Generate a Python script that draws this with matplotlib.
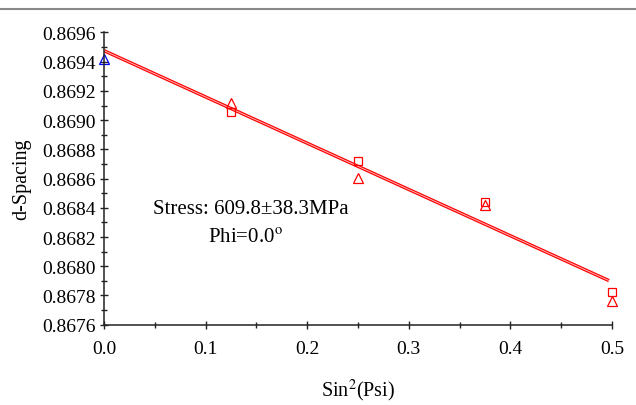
import numpy as np
import matplotlib
matplotlib.use('Agg')
import matplotlib.pyplot as plt
from matplotlib.lines import Line2D
from matplotlib.ticker import MultipleLocator, FormatStrFormatter

plt.rcParams['font.family'] = ['Liberation Serif', 'DejaVu Serif']
plt.rcParams['mathtext.fontset'] = 'stix'

# data
psi_sq = [0.125, 0.25, 0.375, 0.5]
d_square = [0.869054, 0.868720, 0.868440, 0.867826]
d_triangle = [0.869117, 0.868604, 0.868420, 0.867764]
psi0 = [0.0]
d0 = [0.869418]
stress_text = 'Stress: 609.8\u00b138.3MPa'
phi_text = 'Phi=0.0$^{\\mathrm{o}}$'

fig = plt.figure(figsize=(6.36, 4.06), dpi=100)
ax = fig.add_axes([0.1635, 0.1978, 0.7988, 0.7197])

# least-squares fit over all points, drawn as a thin double line
xs = psi0 + psi_sq + psi_sq
ys = d0 + d_square + d_triangle
coef = np.polyfit(xs, ys, 1)
x_fit = np.array([0.0, 0.497])
ax.plot(x_fit, np.polyval(coef, x_fit), color='red', lw=2.4, solid_capstyle='butt')
ax.plot(x_fit, np.polyval(coef, x_fit), color='#ffb3b3', lw=0.7, solid_capstyle='butt')

ax.plot(psi_sq, d_square, ls='none', marker='s', ms=6, mfc='none', mec='red', mew=0.9, clip_on=False)
ax.plot(psi_sq, d_triangle, ls='none', marker='^', ms=7, mfc='none', mec='red', mew=0.9, clip_on=False)
ax.plot(psi0, d0, ls='none', marker='^', ms=7, mfc='none', mec='blue', mew=0.9, clip_on=False)

ax.set_xlim(0, 0.5)
ax.set_ylim(0.8676, 0.8696)
ax.xaxis.set_major_locator(MultipleLocator(0.1))
ax.xaxis.set_minor_locator(MultipleLocator(0.05))
ax.yaxis.set_major_locator(MultipleLocator(0.0002))
ax.yaxis.set_minor_locator(MultipleLocator(0.0001))
ax.xaxis.set_major_formatter(FormatStrFormatter('%.1f'))
ax.yaxis.set_major_formatter(FormatStrFormatter('%.4f'))

for s in ('top', 'right'):
    ax.spines[s].set_visible(False)
for s in ('left', 'bottom'):
    ax.spines[s].set_linewidth(1.1)
    ax.spines[s].set_color('#222222')

ax.tick_params(axis='both', which='both', direction='inout', color='#222222', width=1.0, labelsize=14)
ax.tick_params(axis='both', which='major', length=6)
ax.tick_params(axis='both', which='minor', length=5)
ax.tick_params(axis='x', pad=8)
ax.tick_params(axis='y', pad=3)

ax.set_xlabel('Sin$^{2}$(Psi)', fontsize=14.5, labelpad=14)
ax.set_ylabel('d-Spacing', fontsize=14.5, labelpad=8)

ax.text(0.1447, 0.868392, stress_text, fontsize=15, ha='center', va='center')
ax.text(0.139, 0.868200, phi_text, fontsize=15, ha='center', va='center')

fig.add_artist(Line2D([0, 1], [0.9766, 0.9766], color='#888888', lw=1.5, transform=fig.transFigure))

fig.savefig('out.png', dpi=100)
